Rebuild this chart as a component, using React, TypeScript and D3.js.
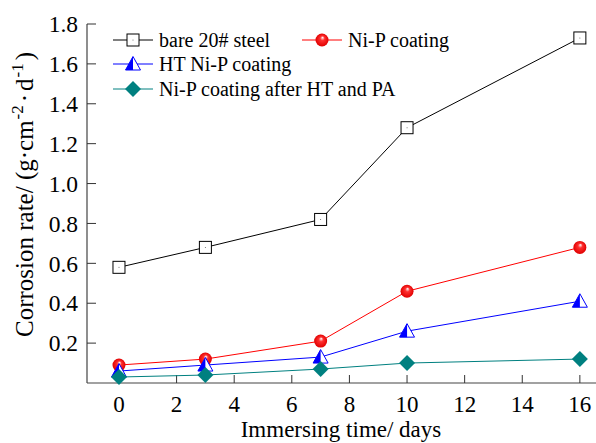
import React from "react";
import * as d3 from "d3";

const days = [0, 3, 7, 10, 16];
const bareSteel = [0.58, 0.68, 0.82, 1.28, 1.73];
const niP = [0.09, 0.12, 0.21, 0.46, 0.68];
const htNiP = [0.06, 0.09, 0.13, 0.26, 0.41];
const niPHtPa = [0.03, 0.04, 0.07, 0.1, 0.12];
const xTicks = [0, 2, 4, 6, 8, 10, 12, 14, 16];
const yTicks = [0.2, 0.4, 0.6, 0.8, 1.0, 1.2, 1.4, 1.6, 1.8];

const W = 596;
const H = 443;
const FONT = "'Liberation Serif', 'Times New Roman', serif";

const x = d3.scaleLinear().domain([-1.11, 16.56]).range([87, 596]);
const y = d3.scaleLinear().domain([0, 1.8]).range([383, 24]);

const series = [
  { name: "bare 20# steel", values: bareSteel, color: "#000000", marker: "square" },
  { name: "Ni-P coating", values: niP, color: "#ff0000", marker: "ball" },
  { name: "HT Ni-P coating", values: htNiP, color: "#0000ff", marker: "tri" },
  { name: "Ni-P coating after HT and PA", values: niPHtPa, color: "#008080", marker: "diamond" },
];

function Marker({ kind, cx, cy, color }: { kind: string; cx: number; cy: number; color: string }) {
  if (kind === "square") {
    return (
      <g>
        <rect x={cx - 6} y={cy - 6} width={12} height={12} fill="#fff" stroke="#000" strokeWidth={1} />
        <circle cx={cx} cy={cy} r={0.5} fill="#555" />
      </g>
    );
  }
  if (kind === "ball") {
    return <circle cx={cx} cy={cy} r={6.5} fill="url(#ballGrad)" />;
  }
  if (kind === "tri") {
    const s = 7.5;
    const top = cy - s;
    const bot = cy + s * 0.8;
    return (
      <g>
        <polygon points={`${cx},${top} ${cx + s},${bot} ${cx - s},${bot}`} fill="#fff" stroke={color} strokeWidth={1} />
        <polygon points={`${cx},${top} ${cx},${bot} ${cx - s},${bot}`} fill={color} />
      </g>
    );
  }
  const d = 8;
  return <polygon points={`${cx},${cy - d} ${cx + d},${cy} ${cx},${cy + d} ${cx - d},${cy}`} fill={color} />;
}

export default function App() {
  const line = d3
    .line<number>()
    .x((_, i) => x(days[i]))
    .y((v) => y(v));

  const legend = [
    { s: series[0], lx: 113, ly: 40 },
    { s: series[1], lx: 302, ly: 40 },
    { s: series[2], lx: 113, ly: 64 },
    { s: series[3], lx: 113, ly: 89 },
  ];

  return (
    <svg
      width={W}
      height={H}
      style={{ position: "absolute", left: 0, top: 0, background: "#fff" }}
      fontFamily={FONT}
    >
      <defs>
        <radialGradient id="ballGrad" cx="0.5" cy="0.5" r="0.5" fx="0.55" fy="0.3">
          <stop offset="0%" stopColor="#ffffff" />
          <stop offset="35%" stopColor="#ff3030" />
          <stop offset="100%" stopColor="#e00000" />
        </radialGradient>
      </defs>

      {/* axes */}
      <line x1={x.range()[0]} x2={x.range()[1]} y1={y(0)} y2={y(0)} stroke="#444" strokeWidth={1.2} />
      <line x1={x.range()[0]} x2={x.range()[0]} y1={y(0)} y2={y(1.8)} stroke="#444" strokeWidth={1.2} />
      {xTicks.map((t) => (
        <g key={"x" + t}>
          <line x1={x(t)} x2={x(t)} y1={y(0)} y2={y(0) - 8} stroke="#333" />
          <text x={x(t)} y={412} textAnchor="middle" fontSize={23}>
            {t}
          </text>
        </g>
      ))}
      {yTicks.map((t) => (
        <g key={"y" + t}>
          <line x1={x.range()[0]} x2={x.range()[0] + 9} y1={y(t)} y2={y(t)} stroke="#333" />
          <text x={x.range()[0] - 9} y={y(t)} dy="0.35em" textAnchor="end" fontSize={23.5}>
            {t.toFixed(1)}
          </text>
        </g>
      ))}

      <text x={341} y={437} textAnchor="middle" fontSize={23}>
        Immersing time/ days
      </text>
      <text transform="translate(33,337) rotate(-90)" textAnchor="start" fontSize={25}>
        Corrosion rate/ (g·cm
        <tspan fontSize={17} dx={1} dy={-10}>-2</tspan>
        <tspan dx={3} dy={10}>·</tspan>
        <tspan dx={3}>d</tspan>
        <tspan fontSize={17} dx={1} dy={-10}>-1</tspan>
        <tspan dx={3} dy={10}>)</tspan>
      </text>

      {/* series */}
      {series.map((s) => (
        <g key={s.name}>
          <path d={line(s.values) || ""} fill="none" stroke={s.color} strokeWidth={1} />
          {s.values.map((v, i) => (
            <Marker key={i} kind={s.marker} cx={x(days[i])} cy={y(v)} color={s.color} />
          ))}
        </g>
      ))}

      {/* legend */}
      {legend.map(({ s, lx, ly }) => (
        <g key={"lg" + s.name}>
          <line x1={lx} x2={lx + 40} y1={ly} y2={ly} stroke={s.color} strokeWidth={1} />
          <Marker kind={s.marker} cx={lx + 20} cy={ly} color={s.color} />
          <text x={lx + 46} y={ly} dy="0.33em" fontSize={20}>
            {s.name}
          </text>
        </g>
      ))}
    </svg>
  );
}
